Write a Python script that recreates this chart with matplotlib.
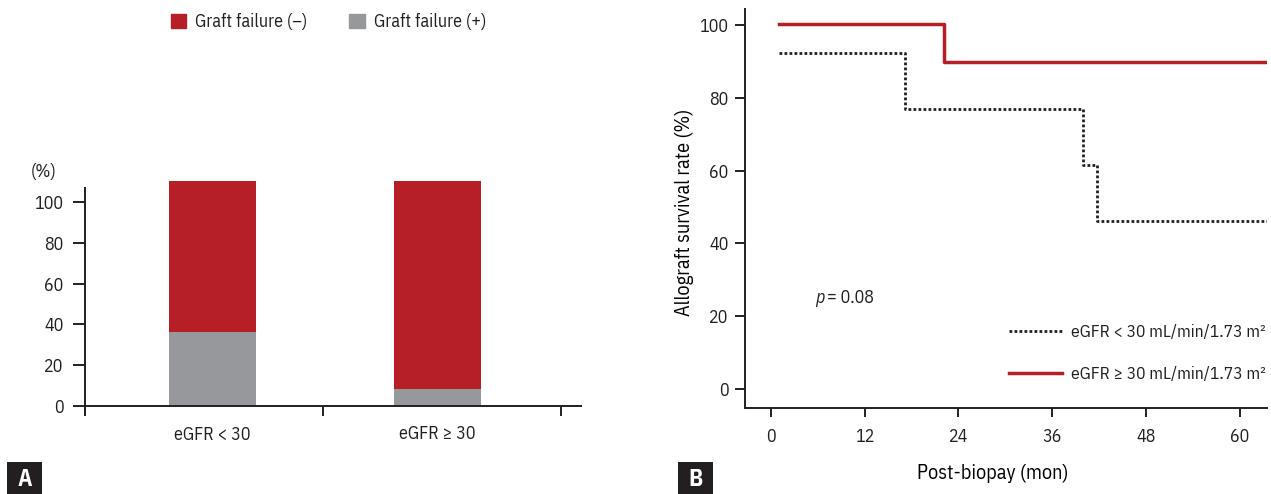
import matplotlib
matplotlib.use("Agg")
import matplotlib.pyplot as plt
from matplotlib.patches import Patch, Rectangle
from matplotlib.lines import Line2D

plt.rcParams['font.family'] = ['IBM Plex Sans Condensed', 'DejaVu Sans']
plt.rcParams['text.color'] = '#231f20'
plt.rcParams['axes.edgecolor'] = '#231f20'
plt.rcParams['xtick.color'] = '#231f20'
plt.rcParams['ytick.color'] = '#231f20'

RED = '#b71f28'
GREY = '#97989c'
INK = '#231f20'

# Panel A data
groups = ["eGFR < 30", "eGFR \u2265 30"]
failure_pos = [36.4, 8.3]
failure_neg = [73.9, 102.0]
legend_a = ["Graft failure (\u2013)", "Graft failure (+)"]
ticks_a = [0, 20, 40, 60, 80, 100]

# Panel B data (Kaplan-Meier steps)
low_t = [1, 17.1, 17.1, 40.0, 40.0, 41.7, 41.7, 63.5]
low_s = [92.3, 92.3, 76.9, 76.9, 61.5, 61.5, 46.1, 46.1]
high_t = [1, 22.1, 22.1, 63.5]
high_s = [100.4, 100.4, 89.8, 89.8]
labels_b = ["eGFR < 30 mL/min/1.73 m\u00b2", "eGFR \u2265 30 mL/min/1.73 m\u00b2"]
xticks_b = [0, 12, 24, 36, 48, 60]
yticks_b = [0, 20, 40, 60, 80, 100]

FS = 13
W, H = 1271, 494
fig = plt.figure(figsize=(W / 100, H / 100), dpi=100)

# ---------- Panel A ----------
axa = fig.add_axes([85 / W, 88 / H, 496 / W, 228.5 / H])
pos = [0.535, 1.48]
axa.bar(pos, failure_pos, width=0.366, color=GREY)
axa.bar(pos, failure_neg, width=0.366, bottom=failure_pos, color=RED)
axa.set_xlim(0, 2.084)
axa.set_ylim(0, 112)
for s in ['top', 'right']:
    axa.spines[s].set_visible(False)
axa.spines['left'].set_bounds(-4.5, 107)
axa.spines['left'].set_linewidth(1.4)
axa.spines['bottom'].set_linewidth(1.4)
axa.spines['left'].set_clip_on(False)
axa.set_yticks(ticks_a)
axa.tick_params(axis='y', length=8.5, width=1.4, pad=7, labelsize=FS)
axa.set_xticks(pos)
axa.set_xticklabels(groups)
axa.set_xticks([0, 1, 2], minor=True)
axa.tick_params(axis='x', which='major', length=0, pad=14, labelsize=FS)
axa.tick_params(axis='x', which='minor', length=7, width=1.4)
fig.text(44 / W, 1 - 172 / H, "(%)", ha='center', va='center', fontsize=FS)

handles_a = [Patch(color=RED), Patch(color=GREY)]
fig.legend(handles_a, legend_a, loc='center left', bbox_to_anchor=(171 / W, 1 - 22 / H),
           ncol=2, frameon=False, fontsize=FS, handlelength=0.85, handleheight=0.85,
           handletextpad=0.5, columnspacing=2.3, borderpad=0, borderaxespad=0)

# ---------- Panel B ----------
axb = fig.add_axes([745 / W, 86 / H, 522 / W, 399 / H])
axb.plot(low_t, low_s, color=INK, lw=2.0, linestyle=(0, (1, 0.8)))
axb.plot(high_t, high_s, color=RED, lw=2.5)
axb.set_xlim(-3.33, 63.5)
axb.set_ylim(-5.2, 104.4)
for s in ['top', 'right']:
    axb.spines[s].set_visible(False)
axb.spines['left'].set_linewidth(1.4)
axb.spines['bottom'].set_linewidth(1.4)
axb.set_xticks(xticks_b)
axb.set_yticks(yticks_b)
axb.tick_params(axis='y', length=7, width=1.4, pad=5, labelsize=FS)
axb.tick_params(axis='x', length=6.5, width=1.4, pad=8, labelsize=FS)
axb.set_ylabel("Allograft survival rate (%)", fontsize=14.5)
axb.yaxis.set_label_coords(-0.098, 0.49)
axb.set_xlabel("Post-biopay (mon)", fontsize=14.5)
axb.xaxis.set_label_coords(0.475, -0.14)
fig.text(815 / W, 1 - 298 / H, "p", fontsize=FS, style='italic', ha='left', va='center')
fig.text(827 / W, 1 - 298 / H, "= 0.08", fontsize=FS, ha='left', va='center')

handles_b = [Line2D([], [], color=INK, lw=2.0, linestyle=(0, (1, 0.8))),
             Line2D([], [], color=RED, lw=2.5)]
fig.legend(handles_b, labels_b, loc='upper left', bbox_to_anchor=(1009 / W, 1 - 324 / H),
           frameon=False, fontsize=12.6, handlelength=3.0, handletextpad=0.55,
           labelspacing=1.5, borderpad=0, borderaxespad=0)

# ---------- Panel letters ----------
for x0, letter in [(7, "A"), (678, "B")]:
    fig.patches.append(Rectangle((x0 / W, 0), 35 / W, 32 / H, transform=fig.transFigure,
                                 facecolor=INK, edgecolor='none'))
    fig.text((x0 + 17.5) / W, 15 / H, letter, color='white', fontsize=17,
             fontweight='bold', ha='center', va='center')

fig.savefig("out.png", dpi=100)
